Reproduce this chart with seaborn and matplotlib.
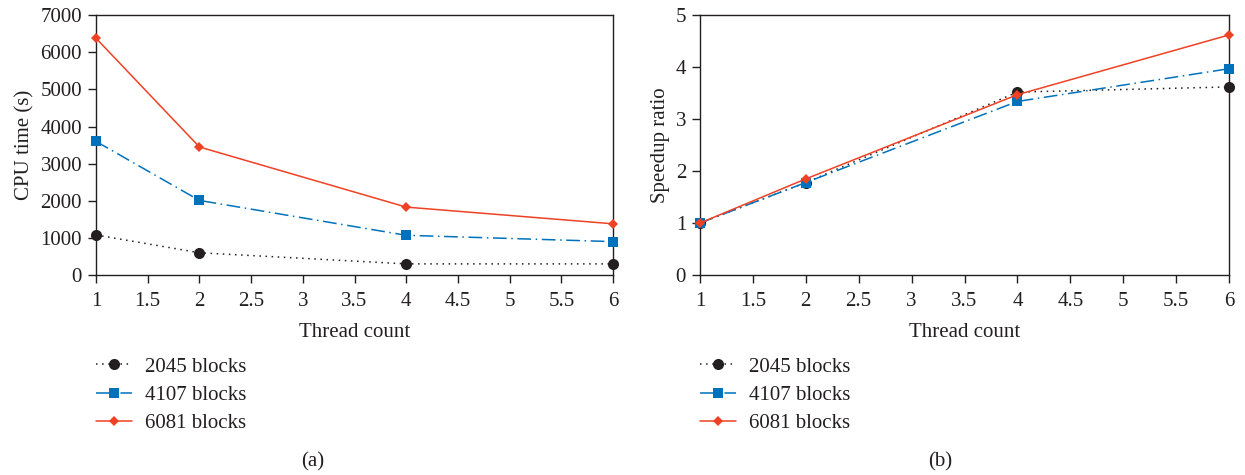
import matplotlib
matplotlib.use("Agg")
import matplotlib.pyplot as plt
import seaborn as sns

# Measured runtimes and speedups per thread count
threads = [1, 2, 4, 6]
series_names = ["2045 blocks", "4107 blocks", "6081 blocks"]
cpu_2045 = [1080, 600, 300, 300]
cpu_4107 = [3600, 2010, 1070, 900]
cpu_6081 = [6380, 3450, 1830, 1380]
speedup_2045 = [1.0, 1.78, 3.52, 3.62]
speedup_4107 = [1.0, 1.78, 3.34, 3.97]
speedup_6081 = [1.0, 1.85, 3.47, 4.62]

sns.set_theme(style="ticks")
plt.rcParams["font.family"] = ["Liberation Serif", "DejaVu Serif"]
plt.rcParams["font.size"] = 15

colors = ["#231f20", "#0072bc", "#ef4123"]
linestyles = [(0, (1, 3)), (0, (9, 3, 1, 3)), "-"]
markers = ["o", "s", "D"]
msizes = [8, 7.5, 5]

fig = plt.figure(figsize=(12.45, 4.75), dpi=100)
ax_a = fig.add_axes([0.0771, 0.421, 0.4153, 0.547])
ax_b = fig.add_axes([0.5622, 0.421, 0.4250, 0.547])


def draw_panel(ax, ys, ylabel, ylim, yticks, legend_left, caption, caption_x):
    for name, y, c, ls, m, ms in zip(series_names, ys, colors, linestyles, markers, msizes):
        sns.lineplot(x=threads, y=y, ax=ax, color=c, linestyle=ls, marker=m,
                     markersize=ms, markeredgewidth=0, linewidth=1.1, label=name,
                     clip_on=False, zorder=3)
    ax.set_xlim(1, 6)
    ax.set_ylim(*ylim)
    ax.set_xticks([1, 1.5, 2, 2.5, 3, 3.5, 4, 4.5, 5, 5.5, 6])
    ax.set_xticklabels(["1", "1.5", "2", "2.5", "3", "3.5", "4", "4.5", "5", "5.5", "6"])
    ax.set_yticks(yticks)
    ax.tick_params(axis="both", direction="out", length=6, width=1,
                   color="#231f20", labelsize=15, labelcolor="#231f20", pad=4)
    ax.tick_params(axis="x", pad=6)
    for sp in ax.spines.values():
        sp.set_visible(True)
        sp.set_color("#231f20")
        sp.set_linewidth(1.0)
    ax.set_xlabel("Thread count", fontsize=15, color="#231f20", labelpad=9)
    ax.set_ylabel(ylabel, fontsize=15, color="#231f20", labelpad=4)
    ax.get_legend().remove()
    handles, labels = ax.get_legend_handles_labels()
    fig.legend(handles, labels, loc="upper left",
               bbox_to_anchor=(legend_left, 0.248), bbox_transform=fig.transFigure,
               frameon=False, fontsize=15, handlelength=1.75, handletextpad=0.6,
               labelspacing=0.42, borderpad=0, borderaxespad=0, numpoints=1,
               labelcolor="#231f20")
    fig.text(caption_x, 0.027, caption, ha="center", va="center",
             fontsize=15, color="#231f20")


draw_panel(ax_a, [cpu_2045, cpu_4107, cpu_6081], "CPU time (s)", (0, 7000),
           range(0, 7001, 1000), 0.0771, "(a)", 0.2515)
draw_panel(ax_b, [speedup_2045, speedup_4107, speedup_6081], "Speedup ratio", (0, 5),
           range(0, 6), 0.5622, "(b)", 0.755)

fig.savefig("out.png", dpi=100)
